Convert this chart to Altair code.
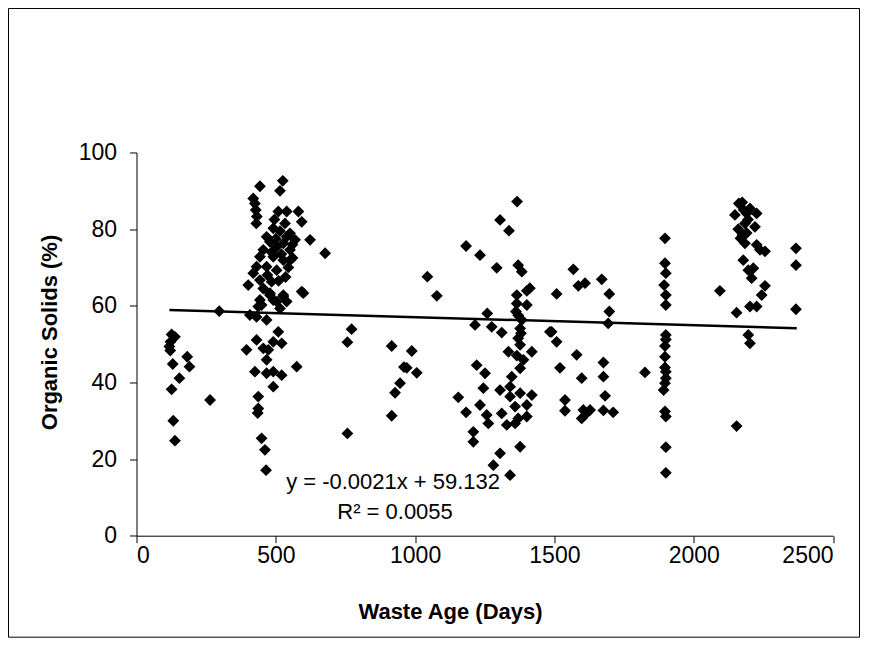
import altair as alt
import pandas as pd

# Waste age (days) and organic solids (%)
days = [
    126, 138, 122, 118, 121, 130, 182, 190, 154, 126, 132, 138, 264, 297,
    525, 515, 443, 419, 425, 428, 432, 430, 509, 539, 581, 593, 623, 677, 491, 533,
    551, 467, 479, 455, 503, 527, 551, 491, 443, 527, 551, 467, 431, 503, 419, 569,
    539, 443, 401, 485, 593, 527, 479, 503, 443, 437, 515, 500, 485, 520, 545, 560,
    470, 510, 535, 455, 560, 495,
    479, 527, 599, 539, 491, 449, 515, 407, 431, 467, 509, 431, 491, 521, 395, 455,
    467, 575, 425, 467, 491, 521, 491, 437, 437, 435, 449, 461, 465, 473,
    757, 772, 757, 916, 988, 970, 1006, 946, 928, 916, 1044, 1078, 960,
    1366, 1305, 1337, 1183, 1233, 1293, 1370, 1383, 1412, 1401, 1365, 1365, 1401,
    1259, 1215, 1275, 1311, 1383, 1377, 1370, 1377, 1335, 1419, 1389, 1377, 1221,
    1251, 1347, 1245, 1305, 1341, 1377, 1419, 1341, 1233, 1257, 1263, 1311, 1359,
    1401, 1401, 1370, 1329, 1359, 1209, 1209, 1377, 1305, 1281, 1341, 1155, 1183,
    1484, 1370, 1380, 1365, 1362,
    1568, 1586, 1610, 1508, 1490, 1508, 1580, 1520, 1598, 1538, 1538, 1604, 1616,
    1670, 1697, 1697, 1693, 1676, 1676, 1682, 1598, 1628, 1676, 1711, 1825,
    1897, 1897, 1900, 1894, 1900, 1900, 1900, 1900, 1897, 1897, 1900, 1900, 1897,
    1892, 1897, 1900, 1900, 1900, 1897,
    2094, 2162, 2174, 2148, 2190, 2202, 2226, 2184, 2220, 2168, 2184, 2226, 2238,
    2256, 2178, 2214, 2196, 2208, 2256, 2244, 2202, 2226, 2154, 2196, 2202, 2154,
    2367, 2367, 2367, 2180, 2195, 2160, 2190, 2175,
]
solids = [
    52.5, 51.9, 50.6, 49.4, 48.3, 44.8, 46.7, 44.1, 41.1, 38.2, 30.0, 24.8, 35.4, 58.6,
    92.6, 90.0, 91.2, 88.0, 86.7, 85.0, 83.3, 81.5, 84.6, 84.6, 84.6, 81.9, 77.2, 73.7, 80.2, 81.5,
    78.9, 78.0, 76.7, 74.6, 75.4, 76.3, 74.6, 72.8, 72.8, 71.9, 71.9, 70.2, 70.2, 69.3, 68.5, 77.2,
    78.0, 66.7, 65.4, 66.3, 63.7, 62.4, 63.3, 61.1, 61.5, 59.8, 79.5, 77.5, 74.0, 73.5, 70.0, 72.5,
    68.0, 66.5, 67.5, 64.5, 76.0, 82.5,
    62.8, 62.8, 63.3, 61.1, 61.5, 60.2, 59.3, 57.6, 57.1, 56.3, 53.2, 51.1, 50.6, 50.2, 48.5, 48.9,
    45.9, 44.1, 42.8, 42.4, 42.8, 41.9, 38.9, 36.3, 33.2, 32.0, 25.4, 22.4, 17.1, 48.5,
    26.7, 53.9, 50.5, 49.5, 48.2, 43.8, 42.5, 39.8, 37.3, 31.3, 67.6, 62.6, 44.0,
    87.2, 82.4, 79.6, 75.6, 73.2, 69.9, 70.6, 68.9, 64.6, 63.9, 62.8, 60.6, 60.2,
    58.0, 55.0, 54.5, 53.0, 56.3, 54.1, 51.5, 49.8, 48.0, 48.0, 45.9, 43.7, 44.5,
    42.4, 41.5, 38.5, 38.0, 38.9, 37.2, 36.7, 36.3, 34.1, 31.5, 29.3, 31.9, 33.7,
    34.1, 31.1, 30.6, 28.9, 29.3, 27.1, 24.5, 23.2, 21.5, 18.4, 15.8, 36.1, 32.2,
    53.2, 57.5, 52.8, 47.0, 58.5,
    69.5, 65.2, 65.9, 63.1, 53.2, 50.6, 47.2, 43.8, 41.1, 35.4, 32.6, 32.8, 32.0,
    66.9, 63.1, 58.5, 55.4, 45.2, 41.5, 36.5, 30.6, 32.8, 32.7, 32.2, 42.6,
    77.6, 71.1, 68.5, 65.4, 62.8, 60.2, 52.4, 51.2, 49.5, 46.7, 42.8, 41.1, 39.8,
    38.0, 32.4, 31.1, 23.1, 16.4, 43.9,
    63.9, 86.7, 87.0, 83.7, 84.1, 85.4, 84.1, 81.5, 80.6, 77.6, 76.3, 75.9, 74.6,
    74.2, 71.9, 69.8, 69.3, 67.2, 65.2, 62.8, 59.8, 59.8, 58.2, 52.4, 50.2, 28.6,
    75.0, 70.6, 59.1, 85.0, 82.5, 80.0, 79.0, 78.5,
]

trend_days = [118, 2370]
trend_solids = [58.884, 54.155]

eq_days = [921, 928]
eq_solids = [14.0, 6.2]
eq_text = ["y = -0.0021x + 59.132", "R\u00b2 = 0.0055"]

x_ticks = [0, 500, 1000, 1500, 2000, 2500]
y_ticks = [0, 20, 40, 60, 80, 100]

FONT = "Liberation Sans"
W, H = 696.5, 383.2
PL, PT, PR, PB = 128.5, 144.5, 27, 102

pts = pd.DataFrame({"days": days, "solids": solids})
trend = pd.DataFrame({"days": trend_days, "solids": trend_solids})
eq = pd.DataFrame({"days": eq_days, "solids": eq_solids, "t": eq_text})

xs = alt.Scale(domain=[0, 2500], nice=False, zero=False)
ys = alt.Scale(domain=[0, 100], nice=False)

xax = alt.Axis(values=x_ticks, format="d", title="Waste Age (Days)", grid=False,
               titleX=313.5, titleY=76, titleBaseline="middle", titleAlign="center",
               labelPadding=2)
yax = alt.Axis(values=y_ticks, format="d", title="Organic Solids (%)", grid=False,
               titleX=-87, titleY=179.5, titleAngle=270, titleBaseline="middle",
               titleAlign="center", labelPadding=13)

scatter = alt.Chart(pts).mark_point(shape="diamond", filled=True, color="black",
                                    opacity=1, size=140).encode(
    x=alt.X("days:Q", scale=xs, axis=xax),
    y=alt.Y("solids:Q", scale=ys, axis=yax),
)

line = alt.Chart(trend).mark_line(color="black", strokeWidth=2.5).encode(
    x=alt.X("days:Q", scale=xs),
    y=alt.Y("solids:Q", scale=ys),
)

label = alt.Chart(eq).mark_text(font=FONT, fontSize=22, color="black",
                                align="center", baseline="middle").encode(
    x=alt.X("days:Q", scale=xs),
    y=alt.Y("solids:Q", scale=ys),
    text="t:N",
)

border = alt.Chart(pd.DataFrame({"a": [0]})).mark_rect(
    filled=False, stroke="black", strokeWidth=1).encode(
    x=alt.value(-PL + 0.5), x2=alt.value(W + PR - 0.5),
    y=alt.value(-PT + 0.5), y2=alt.value(H + PB - 0.5),
)

chart = alt.layer(border, scatter, line, label).properties(
    width=W, height=H,
    autosize=alt.AutoSizeParams(type="none"),
    padding={"left": PL, "top": PT, "right": PR, "bottom": PB},
    background="white",
).configure_view(stroke=None).configure_axis(
    domainColor="black", tickColor="black", tickSize=7, domainWidth=1, tickWidth=1,
    labelFont=FONT, labelFontSize=23, labelColor="black",
    titleFont=FONT, titleFontSize=22, titleFontWeight="bold", titleColor="black",
)

chart.save("out.html", embed_options={"renderer": "svg", "actions": False})
